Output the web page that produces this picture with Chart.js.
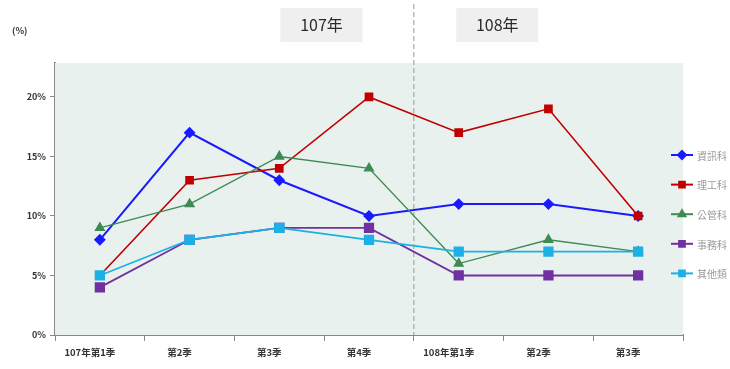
<!DOCTYPE html>
<html lang="zh-Hant">
<head>
  <meta charset="UTF-8">
  <title>各季比率</title>
  <script src="https://cdn.jsdelivr.net/npm/chart.js"></script>
  <style>
    html, body { margin: 0; padding: 0; background: #fff; }
    #wrap { width: 730px; height: 369px; }
  </style>
</head>
<body>
  <div id="wrap"><canvas id="chart" width="730" height="369"></canvas></div>
  <script>
    // 季別與各類比率 (%)
    const quarters = ["107年第1季", "第2季", "第3季", "第4季", "108年第1季", "第2季", "第3季"];
    const seriesNames = ["資訊科", "理工科", "公管科", "事務科", "其他類"];
    const infoRate   = [8, 17, 13, 10, 11, 11, 10];
    const sciRate    = [5, 13, 14, 20, 17, 19, 10];
    const pubRate    = [9, 11, 15, 14, 6, 8, 7];
    const officeRate = [4, 8, 9, 9, 5, 5, 5];
    const otherRate  = [5, 8, 9, 8, 7, 7, 7];
    const yTicks = [0, 5, 10, 15, 20];
    const years = ["107年", "108年"];

    const FONT = "'Noto Sans CJK TC', 'Noto Sans', sans-serif";

    // 背景、年度分隔線、年度標籤、圖例
    const decor = {
      id: "decor",
      beforeDatasetsDraw(chart) {
        const { ctx, chartArea: a } = chart;
        ctx.save();
        ctx.fillStyle = "#e8f1ed";
        ctx.fillRect(a.left, a.top, a.right - a.left, a.bottom - a.top);
        const x = chart.scales.x;
        const split = (x.getPixelForValue(3) + x.getPixelForValue(4)) / 2;
        ctx.strokeStyle = "#999";
        ctx.lineWidth = 1;
        ctx.setLineDash([5, 3]);
        ctx.beginPath();
        ctx.moveTo(split, 4);
        ctx.lineTo(split, a.bottom);
        ctx.stroke();
        ctx.restore();
      },
      afterDraw(chart) {
        const { ctx } = chart;
        const x = chart.scales.x;
        ctx.save();
        // 年度標籤
        const centers = [x.getPixelForValue(2.47), x.getPixelForValue(4.43)];
        ctx.font = "16px " + FONT;
        ctx.textAlign = "center";
        ctx.textBaseline = "middle";
        years.forEach((t, i) => {
          ctx.fillStyle = "#efefef";
          ctx.fillRect(centers[i] - 41, 8, 82, 34);
          ctx.fillStyle = "#2a2a2a";
          ctx.fillText(t, centers[i], 25);
        });
        // 單位
        ctx.font = "bold 9px " + FONT;
        ctx.fillStyle = "#333";
        ctx.textAlign = "left";
        ctx.fillText("(%)", 12, 31);
        // 圖例
        ctx.font = "10px " + FONT;
        chart.data.datasets.forEach((ds, i) => {
          const y = 155 + i * 29.6;
          ctx.strokeStyle = ds.borderColor;
          ctx.lineWidth = 2;
          ctx.beginPath();
          ctx.moveTo(671, y);
          ctx.lineTo(693, y);
          ctx.stroke();
          Chart.helpers.drawPoint(ctx, {
            pointStyle: ds.pointStyle, radius: 4, rotation: 0, borderWidth: 1
          }, 682, y);
          ctx.fillStyle = ds.borderColor;
          ctx.fill();
          ctx.fillStyle = "#999";
          ctx.fillText(ds.label, 697, y + 1);
        });
        ctx.restore();
      }
    };

    // later series sit on top, so order counts down
    function series(label, data, color, style, radius, width, order) {
      return {
        label: label,
        data: data,
        order: order,
        borderColor: color,
        backgroundColor: color,
        pointBackgroundColor: color,
        pointBorderColor: color,
        pointStyle: style,
        pointRadius: radius,
        pointHoverRadius: radius,
        borderWidth: width,
        tension: 0
      };
    }

    new Chart(document.getElementById("chart"), {
      type: "line",
      data: {
        labels: quarters,
        datasets: [
          series(seriesNames[0], infoRate, "#1a1aff", "rectRot", 4.5, 2, 5),
          series(seriesNames[1], sciRate, "#c00000", "rect", 5, 1.6, 4),
          series(seriesNames[2], pubRate, "#3f8a52", "triangle", 5, 1.4, 3),
          series(seriesNames[3], officeRate, "#7030a0", "rect", 6, 1.8, 2),
          series(seriesNames[4], otherRate, "#1cb0e6", "rect", 6, 1.8, 1)
        ]
      },
      options: {
        responsive: false,
        animation: false,
        layout: { padding: { left: 0, right: 47, top: 63, bottom: 0 } },
        plugins: { legend: { display: false }, tooltip: { enabled: false } },
        scales: {
          x: {
            offset: true,
            grid: { offset: true, drawOnChartArea: false, tickLength: 6, color: "#888" },
            border: { color: "#888", width: 2 },
            ticks: {
              font: { family: FONT, size: 9.5, weight: "bold" },
              color: "#333",
              labelOffset: -10,
              padding: 6,
              maxRotation: 0,
              autoSkip: false
            },
            afterFit(s) { s.height = 34; }
          },
          y: {
            min: 0,
            max: 22.85,
            afterBuildTicks(s) { s.ticks = yTicks.map(v => ({ value: v })); },
            grid: { drawOnChartArea: false, tickLength: 5, color: "#888" },
            border: { color: "#888", width: 2 },
            ticks: {
              font: { family: FONT, size: 9, weight: "bold" },
              color: "#333",
              padding: 4,
              callback: v => v + "%"
            },
            afterFit(s) { s.width = 55; }
          }
        }
      },
      plugins: [decor]
    });
  </script>
</body>
</html>
